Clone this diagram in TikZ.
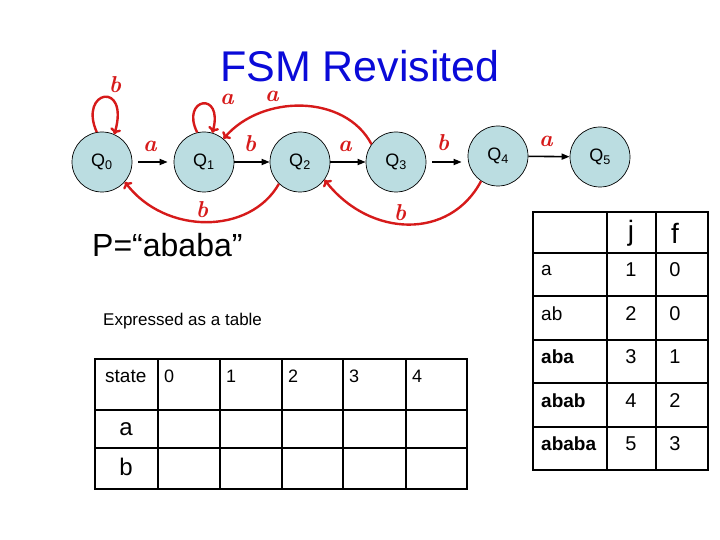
\documentclass[tikz,border=0pt]{standalone}
\usepackage{fontspec}
\setsansfont{Liberation Sans}
\usetikzlibrary{arrows.meta}
\definecolor{StateFill}{HTML}{BBDDE1}
\definecolor{HandRed}{HTML}{D61A1A}
\definecolor{TitleBlue}{HTML}{0A0AD8}
\newcommand{\fs}[1]{\fontsize{#1}{#1}\selectfont}

\begin{document}
\begin{tikzpicture}[x=1pt,y=-1pt,font=\sffamily,
  state/.style={circle,draw,line width=.7pt,fill=StateFill,minimum size=60pt,inner sep=0pt,font=\sffamily\fs{18}},
  move/.style={-{Triangle[length=8pt,width=6pt]},line width=1.6pt},
  back/.style={HandRed,line width=2.4pt,-{To[length=6pt,width=11pt]}},
  hand/.style={HandRed,inner sep=0pt,font=\rmfamily\bfseries\itshape\fs{23}},
  txt/.style={anchor=west,inner sep=0pt},
  rule/.style={line width=2.8pt,line cap=rect}]
  \useasboundingbox (0,0) rectangle (720,540);
  \node[inner sep=0pt,font=\sffamily\fs{43},text=TitleBlue] (title) at (360,66) {FSM Revisited};
  \node[state] (q0) at (102,162) {Q\textsubscript{0}};
  \node[state] (q1) at (204,162) {Q\textsubscript{1}};
  \node[state] (q2) at (300,162) {Q\textsubscript{2}};
  \node[state] (q3) at (396,162) {Q\textsubscript{3}};
  \node[state] (q4) at (498,156) {Q\textsubscript{4}};
  \node[state] (q5) at (600,157) {Q\textsubscript{5}};
  \draw[move,shorten <=6pt,shorten >=6pt] (q0) -- (q1);
  \draw[move] (q1) -- (q2);
  \draw[move] (q2) -- (q3);
  \draw[move,shorten <=6pt,shorten >=6pt] (q3.east) -- (q3.east -| q4.west);
  \draw[move] (q4) -- (q5);
  \draw[back] (q0.100) .. controls (78,90) and (130,80) .. (q0.66);
  \draw[back] (q1.103) .. controls (180,98) and (224,90) .. (q1.74);
  \draw[back] (q3.144) .. controls (345,94) and (262,94) .. (q1.50);
  \draw[back] (q2.226) .. controls (250,235) and (165,235) .. (q0.319);
  \draw[back] (q4.236) .. controls (450,240) and (370,238) .. (q2.324);
  \node[hand] (lb00) at (115,85) {b};
  \node[hand] (la11) at (227,99) {a};
  \node[hand] (la31) at (272,96) {a};
  \node[hand] (la01) at (150,146) {a};
  \node[hand] (lb12) at (250,144) {b};
  \node[hand] (la23) at (345,146) {a};
  \node[hand] (lb34) at (443,143) {b};
  \node[hand] (la45) at (546,141) {a};
  \node[hand] (lb20) at (202,210) {b};
  \node[hand] (lb42) at (400,213) {b};
  \node[txt,font=\sffamily\fs{32}] (pat) at (92,245) {P=“ababa”};
  \node[txt,font=\sffamily\fs{17}] (expr) at (103,321) {Expressed as a table};
  \draw[rule] (95,359) rectangle (467,489);
  \foreach \x in {158,220,282,343,406} \draw[rule] (\x,359) -- (\x,489);
  \foreach \y in {410,448} \draw[rule] (95,\y) -- (467,\y);
  \node[txt,font=\sffamily\fs{19}] (hstate) at (105,376) {state};
  \foreach \c/\x in {0/158,1/220,2/282,3/343,4/406} \node[txt,font=\sffamily\fs{18}] (h\c) at (\x+6,376) {\c};
  \node[font=\sffamily\fs{24}] (ra) at (126,429) {a};
  \node[font=\sffamily\fs{24}] (rb) at (126,467) {b};
  \draw[rule] (533,212) rectangle (708,470);
  \foreach \x in {607,656} \draw[rule] (\x,212) -- (\x,470);
  \foreach \y in {253,296,340,383,427} \draw[rule] (533,\y) -- (708,\y);
  \node[font=\sffamily\fs{28}] (hj) at (631,233) {j};
  \node[font=\sffamily\fs{28}] (hf) at (675,233) {f};
  \foreach \w/\j/\f [count=\i] in {a/1/0,ab/2/0,\textbf{aba}/3/1,\textbf{abab}/4/2,\textbf{ababa}/5/3}{\node[txt,font=\sffamily\fs{19}] (w\i) at (541,226.5+43.5*\i) {\w};\node[font=\sffamily\fs{20}] (j\i) at (631,226.5+43.5*\i) {\j};\node[font=\sffamily\fs{20}] (f\i) at (675,226.5+43.5*\i) {\f};}
\end{tikzpicture}
\end{document}
